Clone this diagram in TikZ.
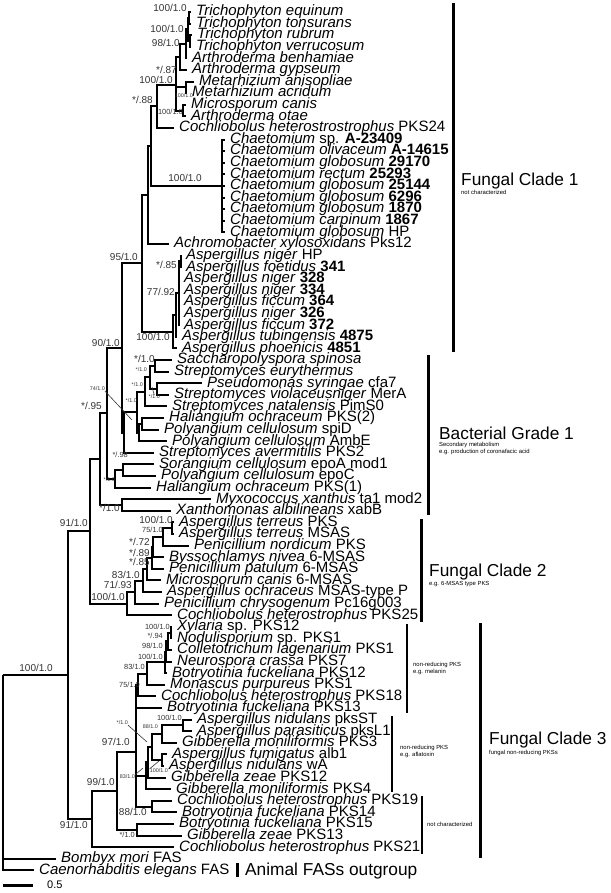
\documentclass[tikz,border=0pt]{standalone}
\usepackage{fontspec}
\setmainfont{Liberation Sans}
\usetikzlibrary{positioning}
\tikzset{
branch/.style={line width=2pt},
taxon/.style={anchor=west,inner xsep=5pt,inner ysep=0pt,font=\fontsize{15}{15}\selectfont,text height=10.7pt,text depth=3.1pt},
bsup/.style={anchor=east,inner sep=0pt,text=black!80,font=\fontsize{10}{10}\selectfont,text height=7.2pt,text depth=0pt},
msup/.style={bsup,font=\fontsize{7.4}{8}\selectfont,text height=5.3pt},
tsup/.style={bsup,font=\fontsize{5.4}{6}\selectfont,text height=3.9pt},
leader/.style={line width=0.6pt,black!80},
cladebar/.style={line width=3pt},
subbar/.style={line width=2.6pt},
cladename/.style={anchor=base west,inner sep=0pt,font=\fontsize{17.3}{18}\selectfont},
cladenote/.style={inner sep=0pt,font=\fontsize{5.9}{7}\selectfont,align=left},
scalelab/.style={anchor=west,inner sep=0pt,font=\fontsize{11}{11}\selectfont}
}
\newcommand{\taxon}[3]{\node[taxon] (L#1) at (#2,{12+(#1-1)*11.6}) {#3};}

\begin{document}
\begin{tikzpicture}[x=1pt,y=-1pt]
\useasboundingbox (0,0) rectangle (610,893);
% taxa
\taxon{1}{191}{\textit{Trichophyton equinum}}
\taxon{2}{191}{\textit{Trichophyton tonsurans}}
\taxon{3}{192}{\textit{Trichophyton rubrum}}
\taxon{4}{191}{\textit{Trichophyton verrucosum}}
\taxon{5}{187}{\textit{Arthroderma benhamiae}}
\taxon{6}{187}{\textit{Arthroderma gypseum}}
\taxon{7}{194}{\textit{Metarhizium anisopliae}}
\taxon{8}{187}{\textit{Metarhizium acridum}}
\taxon{9}{186}{\textit{Microsporum canis}}
\taxon{10}{186}{\textit{Arthroderma otae}}
\taxon{11}{174}{\textit{Cochliobolus heterostrostrophus} PKS24}
\taxon{12}{225}{\textit{Chaetomium} sp. \textbf{A-23409}}
\taxon{13}{225}{\textit{Chaetomium olivaceum} \textbf{A-14615}}
\taxon{14}{225}{\textit{Chaetomium globosum} \textbf{29170}}
\taxon{15}{225}{\textit{Chaetomium rectum} \textbf{25293}}
\taxon{16}{225}{\textit{Chaetomium globosum} \textbf{25144}}
\taxon{17}{225}{\textit{Chaetomium globosum} \textbf{6296}}
\taxon{18}{225}{\textit{Chaetomium globosum} \textbf{1870}}
\taxon{19}{225}{\textit{Chaetomium carpinum} \textbf{1867}}
\taxon{20}{225}{\textit{Chaetomium globosum} HP}
\taxon{21}{169}{\textit{Achromobacter xylosoxidans} Pks12}
\taxon{22}{181}{\textit{Aspergillus niger} HP}
\taxon{23}{181}{\textit{Aspergillus foetidus} \textbf{341}}
\taxon{24}{179}{\textit{Aspergillus niger} \textbf{328}}
\taxon{25}{179}{\textit{Aspergillus niger} \textbf{334}}
\taxon{26}{179}{\textit{Aspergillus ficcum} \textbf{364}}
\taxon{27}{179}{\textit{Aspergillus niger} \textbf{326}}
\taxon{28}{179}{\textit{Aspergillus ficcum} \textbf{372}}
\taxon{29}{177}{\textit{Aspergillus tubingensis} \textbf{4875}}
\taxon{30}{177}{\textit{Aspergillus phoenicis} \textbf{4851}}
\taxon{31}{172}{\textit{Saccharopolyspora spinosa}}
\taxon{32}{169}{\textit{Streptomyces eurythermus}}
\taxon{33}{202}{\textit{Pseudomonas syringae} cfa7}
\taxon{34}{169}{\textit{Streptomyces violaceusniger} MerA}
\taxon{35}{167}{\textit{Streptomyces natalensis} PimS0}
\taxon{36}{164}{\textit{Haliangium ochraceum} PKS(2)}
\taxon{37}{159}{\textit{Polyangium cellulosum} spiD}
\taxon{38}{167}{\textit{Polyangium cellulosum} AmbE}
\taxon{39}{154}{\textit{Streptomyces avermitilis} PKS2}
\taxon{40}{154}{\textit{Sorangium cellulosum} epoA mod1}
\taxon{41}{156}{\textit{Polyangium cellulosum} epoC}
\taxon{42}{151}{\textit{Haliangium ochraceum} PKS(1)}
\taxon{43}{211}{\textit{Myxococcus xanthus} ta1 mod2}
\taxon{44}{171}{\textit{Xanthomonas albilineans} xabB}
\taxon{45}{174}{\textit{Aspergillus terreus} PKS}
\taxon{46}{174}{\textit{Aspergillus terreus} MSAS}
\taxon{47}{189}{\textit{Penicillium nordicum} PKS}
\taxon{48}{164}{\textit{Byssochlamys nivea} 6-MSAS}
\taxon{49}{164}{\textit{Penicillium patulum} 6-MSAS}
\taxon{50}{161}{\textit{Microsporum canis} 6-MSAS}
\taxon{51}{162}{\textit{Aspergillus ochraceus} MSAS-type P}
\taxon{52}{159}{\textit{Penicillium chrysogenum} Pc16g003}
\taxon{53}{172}{\textit{Cochliobolus heterostrophus} PKS25}
\taxon{54}{172}{\textit{Xylaria} sp. PKS12}
\taxon{55}{172}{\textit{Nodulisporium} sp. PKS1}
\taxon{56}{172}{\textit{Colletotrichum lagenarium} PKS1}
\taxon{57}{172}{\textit{Neurospora crassa} PKS7}
\taxon{58}{167}{\textit{Botryotinia fuckeliana} PKS12}
\taxon{59}{165}{\textit{Monascus purpureus} PKS1}
\taxon{60}{156}{\textit{Cochliobolus heterostrophus} PKS18}
\taxon{61}{162}{\textit{Botryotinia fuckeliana} PKS13}
\taxon{62}{192}{\textit{Aspergillus nidulans} pksST}
\taxon{63}{192}{\textit{Aspergillus parasiticus} pksL1}
\taxon{64}{177}{\textit{Gibberella moniliformis} PKS3}
\taxon{65}{167}{\textit{Aspergillus fumigatus} alb1}
\taxon{66}{164}{\textit{Aspergillus nidulans} wA}
\taxon{67}{166}{\textit{Gibberella zeae} PKS12}
\taxon{68}{171}{\textit{Gibberella moniliformis} PKS4}
\taxon{69}{172}{\textit{Cochliobolus heterostrophus} PKS19}
\taxon{70}{177}{\textit{Botryotinia fuckeliana} PKS14}
\taxon{71}{174}{\textit{Botryotinia fuckeliana} PKS15}
\taxon{72}{182}{\textit{Gibberella zeae} PKS13}
\taxon{73}{174}{\textit{Cochliobolus heterostrophus} PKS21}
\taxon{74}{56}{\textit{Bombyx mori} FAS}
\taxon{75}{34}{\textit{Caenorhabditis elegans} FAS}
% internal nodes
\coordinate (n1) at (189,17.8);   \coordinate (n2) at (190,41.0);
\coordinate (n3) at (188,29.4);   \coordinate (n4) at (186,43.9);
\coordinate (n5) at (180,57.0);   \coordinate (n6) at (185.5,87.4);
\coordinate (n7) at (183,110.6);  \coordinate (n8) at (176,85);
\coordinate (n9) at (157,106.5);  \coordinate (n10) at (222,186);
\coordinate (n11) at (151,146.3); \coordinate (n12) at (148,195.1);
\coordinate (a1) at (180.5,261.4); \coordinate (a2) at (178.5,293.3);
\coordinate (a3) at (176,315);    \coordinate (a4) at (173,331.7);
\coordinate (n13) at (142,263.4);
\coordinate (b1) at (155,365.8);  \coordinate (b3) at (157,389);
\coordinate (b2) at (150,377.4);  \coordinate (b4) at (145,391.9);
\coordinate (b6) at (142,423.8);  \coordinate (b6a) at (139,432.5);
\coordinate (b5) at (137,412.2);  \coordinate (b7) at (124,432.5);
\coordinate (b8) at (123,470.2);  \coordinate (b9) at (115,478.9);
\coordinate (n14) at (122,348);   \coordinate (n15) at (107,413.4);
\coordinate (b11) at (122,505);   \coordinate (n16) at (100,459.2);
\coordinate (f1) at (172,528.2);  \coordinate (f2) at (163,536.9);
\coordinate (f3) at (153,547);    \coordinate (f4) at (152,557.9);
\coordinate (f5) at (147,569.2);  \coordinate (f6) at (143,580.6);
\coordinate (f7) at (135,592.1);  \coordinate (f8) at (127,603.6);
\coordinate (n17) at (90,531.4);
\coordinate (m1) at (171,632.6);  \coordinate (m2) at (168,641.3);
\coordinate (m3) at (166,651.5);  \coordinate (m4) at (165,662.3);
\coordinate (m5) at (147,673.6);  \coordinate (m6) at (138,685);
\coordinate (k1) at (183,725.4);  \coordinate (k2) at (162,734.1);
\coordinate (k3) at (162,760.2);  \coordinate (k4) at (152,747.2);
\coordinate (k5) at (148,762.4);  \coordinate (k6) at (146,775.8);
\coordinate (g1) at (152,806.6);  \coordinate (c1) at (136,752);
\coordinate (g2) at (137,829.8);  \coordinate (c2) at (117,790.9);
\coordinate (c3) at (92,819);     \coordinate (n18) at (68,675.2);
\coordinate (rt) at (3,675.2);
% branches
\foreach \p/\c in {n1/L1.west,n1/L2.west,n2/L3.west,n2/L4.west,n3/n1,n3/n2,n4/n3,n4/L5.west,
  n5/n4,n5/L6.west,n6/L7.west,n6/L8.west,n7/L9.west,n7/L10.west,n8/n5,n8/n6,n8/n7,
  n9/n8,n9/L11.west,n10/L12.west,n10/L13.west,n10/L14.west,n10/L15.west,n10/L16.west,
  n10/L17.west,n10/L18.west,n10/L19.west,n10/L20.west,n11/n9,n11/n10,n12/n11,n12/L21.west,
  a1/L22.west,a1/L23.west,a2/a1,a2/L24.west,a2/L25.west,a2/L26.west,a2/L27.west,a2/L28.west,
  a3/a2,a3/L29.west,a4/a3,a4/L30.west,n13/n12,n13/a4,
  b1/L31.west,b1/L32.west,b3/L33.west,b3/L34.west,b2/b1,b2/b3,b4/b2,b4/L35.west,
  b6/L36.west,b6/L37.west,b6a/b6,b6a/L38.west,b5/b4,b5/b6a,b7/b5,b7/L39.west,
  b8/L40.west,b8/L41.west,b9/b8,b9/L42.west,n14/n13,n14/b7,n15/n14,n15/b9,
  b11/L43.west,b11/L44.west,n16/n15,n16/b11,
  f1/L45.west,f1/L46.west,f2/f1,f2/L47.west,f3/f2,f3/L48.west,f4/f3,f4/L49.west,
  f5/f4,f5/L50.west,f6/f5,f6/L51.west,f7/f6,f7/L52.west,f8/f7,f8/L53.west,n17/n16,n17/f8,
  m1/L54.west,m1/L55.west,m2/m1,m2/L56.west,m3/m2,m3/L57.west,m4/m3,m4/L58.west,
  m5/m4,m5/L59.west,m6/m5,m6/L60.west,
  k1/L62.west,k1/L63.west,k2/k1,k2/L64.west,k3/L65.west,k3/L66.west,k4/k2,k4/k3,
  k5/k4,k5/L67.west,k6/k5,k6/L68.west,g1/L69.west,g1/L70.west,
  c1/m6,c1/L61.west,c1/k6,c1/g1,g2/L71.west,g2/L72.west,c2/c1,c2/g2,c3/c2,c3/L73.west,
  n18/n17,n18/c3,rt/n18,rt/L74.west,rt/L75.west}
  \draw[branch] (\p) |- (\c);
% support values
\node[bsup] (s1) at (187,8) {100/1.0};
\node[bsup] (s2) at (184,29) {100/1.0};
\node[bsup] (s3) at (180,43) {98/1.0};
\node[bsup] (s4) at (177,70) {*/.87};
\node[bsup] (s5) at (173,80) {100/1.0};
\node[tsup] (s6) at (193,96) {100/1.0};
\node[bsup] (s7) at (153,100) {*/.88};
\node[msup] (s8) at (183,112) {100/1.0};
\node[bsup] (s9) at (202,178) {100/1.0};
\node[bsup] (s10) at (138,257) {95/1.0};
\node[bsup] (s11) at (177,265) {*/.85};
\node[bsup] (s12) at (175,292) {77/.92};
\node[bsup] (s13) at (170,337) {100/1.0};
\node[bsup] (s14) at (120,343) {90/1.0};
\node[bsup] (s15) at (155,359) {*/1.0};
\node[tsup] (s16) at (147,370) {*/1.0};
\node[tsup] (s17) at (143,385) {*/1.0};
\node[tsup] (s18) at (160,397) {*/1.0};
\node[tsup] (s19) at (137,401) {*/1.0};
\node[tsup] (s20) at (105,389) {74/1.0};
\node[bsup] (s21) at (102,406) {*/.95};
\node[msup] (s22) at (128,455) {*/.98};
\node[tsup] (s23) at (115,480) {*/1.0};
\node[bsup] (s24) at (120,508) {*/1.0};
\node[bsup] (s25) at (88,523) {91/1.0};
\node[bsup] (s26) at (173,520) {100/1.0};
\node[msup] (s27) at (163,530) {75/1.0};
\node[bsup] (s28) at (150,542) {*/.72};
\node[bsup] (s29) at (150,553) {*/.89};
\node[bsup] (s30) at (150,562) {*/.85};
\node[bsup] (s31) at (140,575) {83/1.0};
\node[bsup] (s32) at (132,585) {71/.93};
\node[bsup] (s33) at (125,597) {100/1.0};
\node[bsup] (s34) at (53,668) {100/1.0};
\node[msup] (s35) at (170,627) {100/1.0};
\node[msup] (s36) at (163,636) {*/.94};
\node[msup] (s37) at (163,646) {98/1.0};
\node[msup] (s38) at (163,657) {100/1.0};
\node[msup] (s39) at (145,667) {83/1.0};
\node[msup] (s40) at (140,685) {75/1.0};
\node[tsup] (s41) at (128,723) {*/1.0};
\node[tsup] (s42) at (158,727) {88/1.0};
\node[msup] (s43) at (182,718) {100/1.0};
\node[bsup] (s44) at (130,742) {97/1.0};
\node[tsup] (s45) at (168,771) {100/1.0};
\node[tsup] (s46) at (135,777) {83/1.0};
\node[bsup] (s47) at (115,782) {99/1.0};
\node[bsup] (s48) at (147,812) {88/1.0};
\node[bsup] (s49) at (88,825) {91/1.0};
\node[msup] (s50) at (135,835) {*/1.0};
% leader lines
\coordinate (q20) at (132,420); \coordinate (q18) at (152,387);
\coordinate (q41) at (147,742); \coordinate (q45) at (159,761);
\coordinate (q46) at (143,768);
\draw[leader] (s20.south east) -- (q20);
\draw[leader] (s18.north) -- (q18);
\draw[leader] (s41.south east) -- (q41);
\draw[leader] (s45.north west) -- (q45);
\draw[leader] (s46.north east) -- (q46);
% clade bars and names
\draw[cladebar] (453,3) -- (453,352);
\draw[cladebar] (428,355) -- (428,515);
\draw[cladebar] (421,519) -- (421,622);
\draw[cladebar] (480,623) -- (480,858);
\draw[subbar] (407,624) -- (407,713);
\draw[subbar] (392,716) -- (392,792);
\draw[subbar] (422,796) -- (422,854);
\draw[cladebar] (237,863) -- (237,877);
\node[cladename] (fc1) at (461,186) {Fungal Clade 1};
\node[cladenote,below=4pt of fc1.base west,anchor=north west] (fc1n) {not characterized};
\node[cladename] (bg1) at (439,439) {Bacterial Grade 1};
\node[cladenote,below=3pt of bg1.base west,anchor=north west] (bg1n) {Secondary metabolism\\e.g. production of coronafacic acid};
\node[cladename] (fc2) at (429,576) {Fungal Clade 2};
\node[cladenote,below=5pt of fc2.base west,anchor=north west] (fc2n) {e.g. 6-MSAS type PKS};
\node[cladename] (fc3) at (489,744) {Fungal Clade 3};
\node[cladenote,below=6pt of fc3.base west,anchor=north west] (fc3n) {fungal non-reducing PKSs};
\node[cladenote,anchor=north west] (mel) at (413,662) {non-reducing PKS\\e.g. melanin};
\node[cladenote,anchor=north west] (afl) at (400,745) {non-reducing PKS\\e.g. aflatoxin};
\node[cladenote,anchor=north west] (nch) at (427,822) {not characterized};
\node[cladename] (afas) at (245,875) {Animal FASs outgroup};
% scale bar
\coordinate (sb1) at (3,885); \coordinate (sb2) at (33,885);
\draw[cladebar] (sb1) -- (sb2);
\node[scalelab,right=14pt of sb2] (sbl) {0.5};
\end{tikzpicture}
\end{document}
